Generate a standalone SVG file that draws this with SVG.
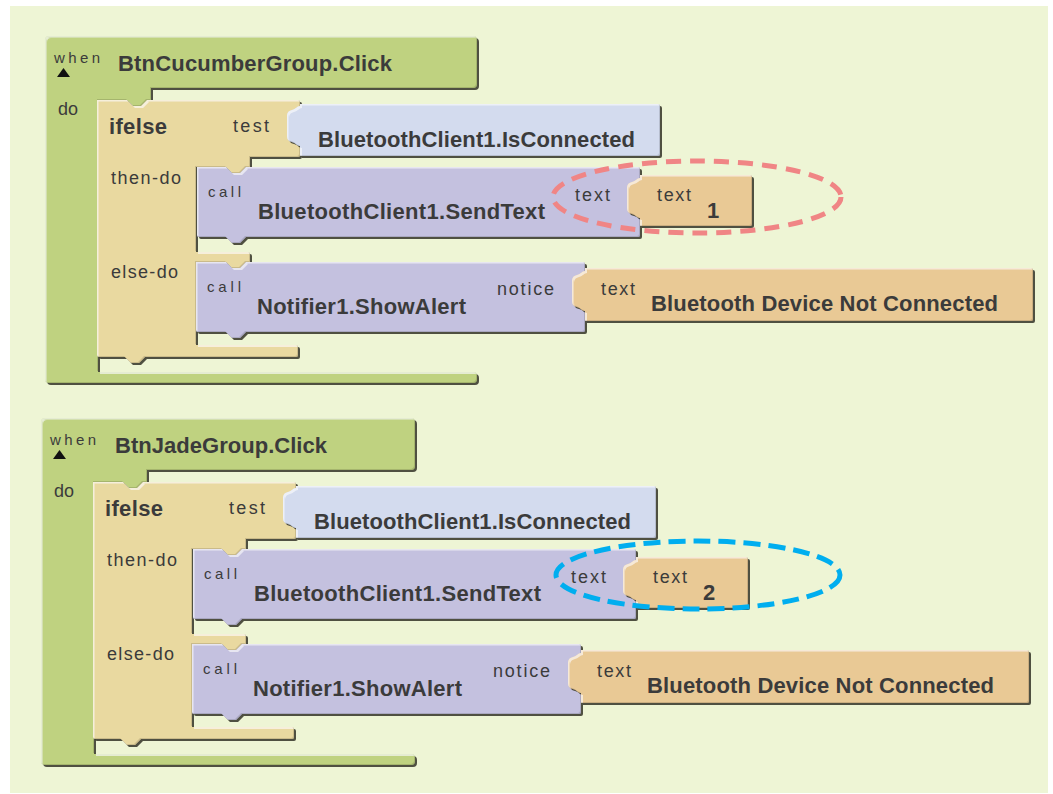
<svg xmlns="http://www.w3.org/2000/svg" width="1053" height="794" viewBox="0 0 1053 794">
  <style>
    .t { font-family: "Liberation Sans", Arial, sans-serif; fill: #3b3b3b; }
    .lbl { font-size: 18px; }
    .sm { font-size: 15px; }
    .nm { font-size: 22px; font-weight: bold; }
    .when { fill: #bfd280; }
    .ifelse { fill: #e9d9a0; }
    .call { fill: #c4c1df; }
    .getter { fill: #d3dbee; }
    .str { fill: #e9c995; }
    .blk { filter: url(#bevel); }
  </style>
  <defs>
    <!-- raised look: drop shadow below/right, light rim top/left, dark rim bottom/right -->
    <filter id="bevel" x="-5%" y="-10%" width="110%" height="125%">
      <feOffset in="SourceAlpha" dx="1.5" dy="2" result="sh"/>
      <feFlood flood-color="#3e3e30" flood-opacity="0.9"/>
      <feComposite in2="sh" operator="in" result="shadow"/>
      <feOffset in="SourceAlpha" dx="1.5" dy="1.5" result="o1"/>
      <feComposite in="SourceAlpha" in2="o1" operator="out" result="rimTL"/>
      <feFlood flood-color="#ffffff" flood-opacity="0.55"/>
      <feComposite in2="rimTL" operator="in" result="hl"/>
      <feOffset in="SourceAlpha" dx="-1.2" dy="-1.2" result="o2"/>
      <feComposite in="SourceAlpha" in2="o2" operator="out" result="rimBR"/>
      <feFlood flood-color="#000000" flood-opacity="0.28"/>
      <feComposite in2="rimBR" operator="in" result="dk"/>
      <feMerge>
        <feMergeNode in="shadow"/>
        <feMergeNode in="SourceGraphic"/>
        <feMergeNode in="hl"/>
        <feMergeNode in="dk"/>
      </feMerge>
    </filter>
  </defs>

  <rect width="1053" height="794" fill="#ffffff"/>
  <rect x="10" y="6" width="1038" height="787" fill="#eef5d5"/>

  <!-- ===== Event handler 1 ===== -->
  <g id="when-cucumber">
    <path class="when blk" d="M49,36 H473 Q477,36 477,40 V84 Q477,88 473,88 H151 V100 H147 L141,106 H133 L127,100 H98 V372 H473 Q477,372 477,376 V379 Q477,383 473,383 H49 Q45,383 45,379 V40 Q45,36 49,36 Z"/>
    <text class="t sm" x="54" y="63" textLength="46" lengthAdjust="spacing">when</text>
    <path d="M57,77 L70,77 L63.5,68 Z" fill="#111"/>
    <text class="t nm" x="118" y="71" textLength="274" lengthAdjust="spacing">BtnCucumberGroup.Click</text>
    <text class="t lbl" x="58" y="115">do</text>
  </g>
  <g id="ifelse-1">
    <path class="ifelse blk" d="M97,100 H127 L133,106 H141 L147,100 H298 Q300,100 300,102 V155 Q300,157 298,157 H250 V167 H246 L240,173 H232 L226,167 H196 V252 H248 Q250,252 250,254 V262 H246 L240,268 H232 L226,262 H196 V345 H296 Q298,345 298,347 V355 Q298,357 296,357 H145 L139,363 H131 L125,357 H99 Q97,357 97,355 Z"/>
    <text class="t nm" x="109" y="134" textLength="58" lengthAdjust="spacing">ifelse</text>
    <text class="t lbl" x="233" y="132" textLength="36" lengthAdjust="spacing">test</text>
    <text class="t lbl" x="111" y="184" textLength="70" lengthAdjust="spacing">then-do</text>
    <text class="t lbl" x="111" y="278" textLength="67" lengthAdjust="spacing">else-do</text>
  </g>
  <g id="isconnected-1">
    <path class="getter blk" d="M300,104 H658 Q660,104 660,106 V154 Q660,156 658,156 H300 V146 C297,146 296,143 292,142 C287,141 287,138 287,134 V117 C287,113 288,111 292,110 C296,109 297,106 300,106 Z"/>
    <text class="t nm" x="318" y="147" textLength="317" lengthAdjust="spacing">BluetoothClient1.IsConnected</text>
  </g>
  <g id="sendtext-1">
    <path class="call blk" d="M197,167 H226 L232,173 H240 L246,167 H638 Q640,167 640,169 V235 Q640,237 638,237 H246 L240,243 H232 L226,237 H199 Q197,237 197,235 Z"/>
    <text class="t sm" x="208" y="197" textLength="33" lengthAdjust="spacing">call</text>
    <text class="t nm" x="258" y="219" textLength="287" lengthAdjust="spacing">BluetoothClient1.SendText</text>
    <text class="t lbl" x="575" y="201" textLength="35" lengthAdjust="spacing">text</text>
  </g>
  <g id="text-1">
    <path class="str blk" d="M640,175 H750 Q752,175 752,177 V224 Q752,226 750,226 H640 V218 C637,218 636,215 632,214 C627,213 627,210 627,206 V189 C627,185 628,183 632,182 C636,181 637,178 640,178 Z"/>
    <text class="t lbl" x="657" y="201" textLength="34" lengthAdjust="spacing">text</text>
    <text class="t nm" x="707" y="218">1</text>
  </g>
  <g id="showalert-1">
    <path class="call blk" d="M196,262 H226 L232,268 H240 L246,262 H583 Q585,262 585,264 V330 Q585,332 583,332 H246 L240,338 H232 L226,332 H198 Q196,332 196,330 Z"/>
    <text class="t sm" x="207" y="292" textLength="34" lengthAdjust="spacing">call</text>
    <text class="t nm" x="257" y="314" textLength="209" lengthAdjust="spacing">Notifier1.ShowAlert</text>
    <text class="t lbl" x="497" y="295" textLength="57" lengthAdjust="spacing">notice</text>
  </g>
  <g id="notice-text-1">
    <path class="str blk" d="M585,268 H1031 Q1033,268 1033,270 V319 Q1033,321 1031,321 H585 V311 C582,311 581,308 577,307 C572,306 572,303 572,299 V282 C572,278 573,276 577,275 C581,274 582,271 585,271 Z"/>
    <text class="t lbl" x="601" y="295" textLength="34" lengthAdjust="spacing">text</text>
    <text class="t nm" x="651" y="311" textLength="347" lengthAdjust="spacing">Bluetooth Device Not Connected</text>
  </g>

  <!-- ===== Event handler 2 ===== -->
  <g transform="translate(-4,382)">
    <g id="when-jade">
      <path class="when blk" d="M49,36 H415 Q419,36 419,40 V84 Q419,88 415,88 H151 V100 H147 L141,106 H133 L127,100 H98 V372 H415 Q419,372 419,376 V379 Q419,383 415,383 H49 Q45,383 45,379 V40 Q45,36 49,36 Z"/>
      <text class="t sm" x="54" y="63" textLength="46" lengthAdjust="spacing">when</text>
      <path d="M57,77 L70,77 L63.5,68 Z" fill="#111"/>
      <text class="t nm" x="119" y="71" textLength="212" lengthAdjust="spacing">BtnJadeGroup.Click</text>
      <text class="t lbl" x="58" y="115">do</text>
    </g>
    <g id="ifelse-2">
      <path class="ifelse blk" d="M97,100 H127 L133,106 H141 L147,100 H298 Q300,100 300,102 V155 Q300,157 298,157 H250 V167 H246 L240,173 H232 L226,167 H196 V252 H248 Q250,252 250,254 V262 H246 L240,268 H232 L226,262 H196 V345 H296 Q298,345 298,347 V355 Q298,357 296,357 H145 L139,363 H131 L125,357 H99 Q97,357 97,355 Z"/>
      <text class="t nm" x="109" y="134" textLength="58" lengthAdjust="spacing">ifelse</text>
      <text class="t lbl" x="233" y="132" textLength="36" lengthAdjust="spacing">test</text>
      <text class="t lbl" x="111" y="184" textLength="70" lengthAdjust="spacing">then-do</text>
      <text class="t lbl" x="111" y="278" textLength="67" lengthAdjust="spacing">else-do</text>
    </g>
    <g id="isconnected-2">
      <path class="getter blk" d="M300,104 H658 Q660,104 660,106 V154 Q660,156 658,156 H300 V146 C297,146 296,143 292,142 C287,141 287,138 287,134 V117 C287,113 288,111 292,110 C296,109 297,106 300,106 Z"/>
      <text class="t nm" x="318" y="147" textLength="317" lengthAdjust="spacing">BluetoothClient1.IsConnected</text>
    </g>
    <g id="sendtext-2">
      <path class="call blk" d="M197,167 H226 L232,173 H240 L246,167 H638 Q640,167 640,169 V235 Q640,237 638,237 H246 L240,243 H232 L226,237 H199 Q197,237 197,235 Z"/>
      <text class="t sm" x="208" y="197" textLength="33" lengthAdjust="spacing">call</text>
      <text class="t nm" x="258" y="219" textLength="287" lengthAdjust="spacing">BluetoothClient1.SendText</text>
      <text class="t lbl" x="575" y="201" textLength="35" lengthAdjust="spacing">text</text>
    </g>
    <g id="text-2">
      <path class="str blk" d="M640,175 H750 Q752,175 752,177 V224 Q752,226 750,226 H640 V218 C637,218 636,215 632,214 C627,213 627,210 627,206 V189 C627,185 628,183 632,182 C636,181 637,178 640,178 Z"/>
      <text class="t lbl" x="657" y="201" textLength="34" lengthAdjust="spacing">text</text>
      <text class="t nm" x="707" y="218">2</text>
    </g>
    <g id="showalert-2">
      <path class="call blk" d="M196,262 H226 L232,268 H240 L246,262 H583 Q585,262 585,264 V330 Q585,332 583,332 H246 L240,338 H232 L226,332 H198 Q196,332 196,330 Z"/>
      <text class="t sm" x="207" y="292" textLength="34" lengthAdjust="spacing">call</text>
      <text class="t nm" x="257" y="314" textLength="209" lengthAdjust="spacing">Notifier1.ShowAlert</text>
      <text class="t lbl" x="497" y="295" textLength="57" lengthAdjust="spacing">notice</text>
    </g>
    <g id="notice-text-2">
      <path class="str blk" d="M585,268 H1031 Q1033,268 1033,270 V319 Q1033,321 1031,321 H585 V311 C582,311 581,308 577,307 C572,306 572,303 572,299 V282 C572,278 573,276 577,275 C581,274 582,271 585,271 Z"/>
      <text class="t lbl" x="601" y="295" textLength="34" lengthAdjust="spacing">text</text>
      <text class="t nm" x="651" y="311" textLength="347" lengthAdjust="spacing">Bluetooth Device Not Connected</text>
    </g>
  </g>

  <!-- dashed highlight rings around the sent values -->
  <g id="highlights" fill="none" stroke-width="5">
    <ellipse cx="697" cy="197" rx="144" ry="36" stroke="#f08585" stroke-dasharray="15 9"/>
    <ellipse cx="698" cy="575" rx="142" ry="34" stroke="#00aeef" stroke-dasharray="17 8"/>
  </g>
</svg>
